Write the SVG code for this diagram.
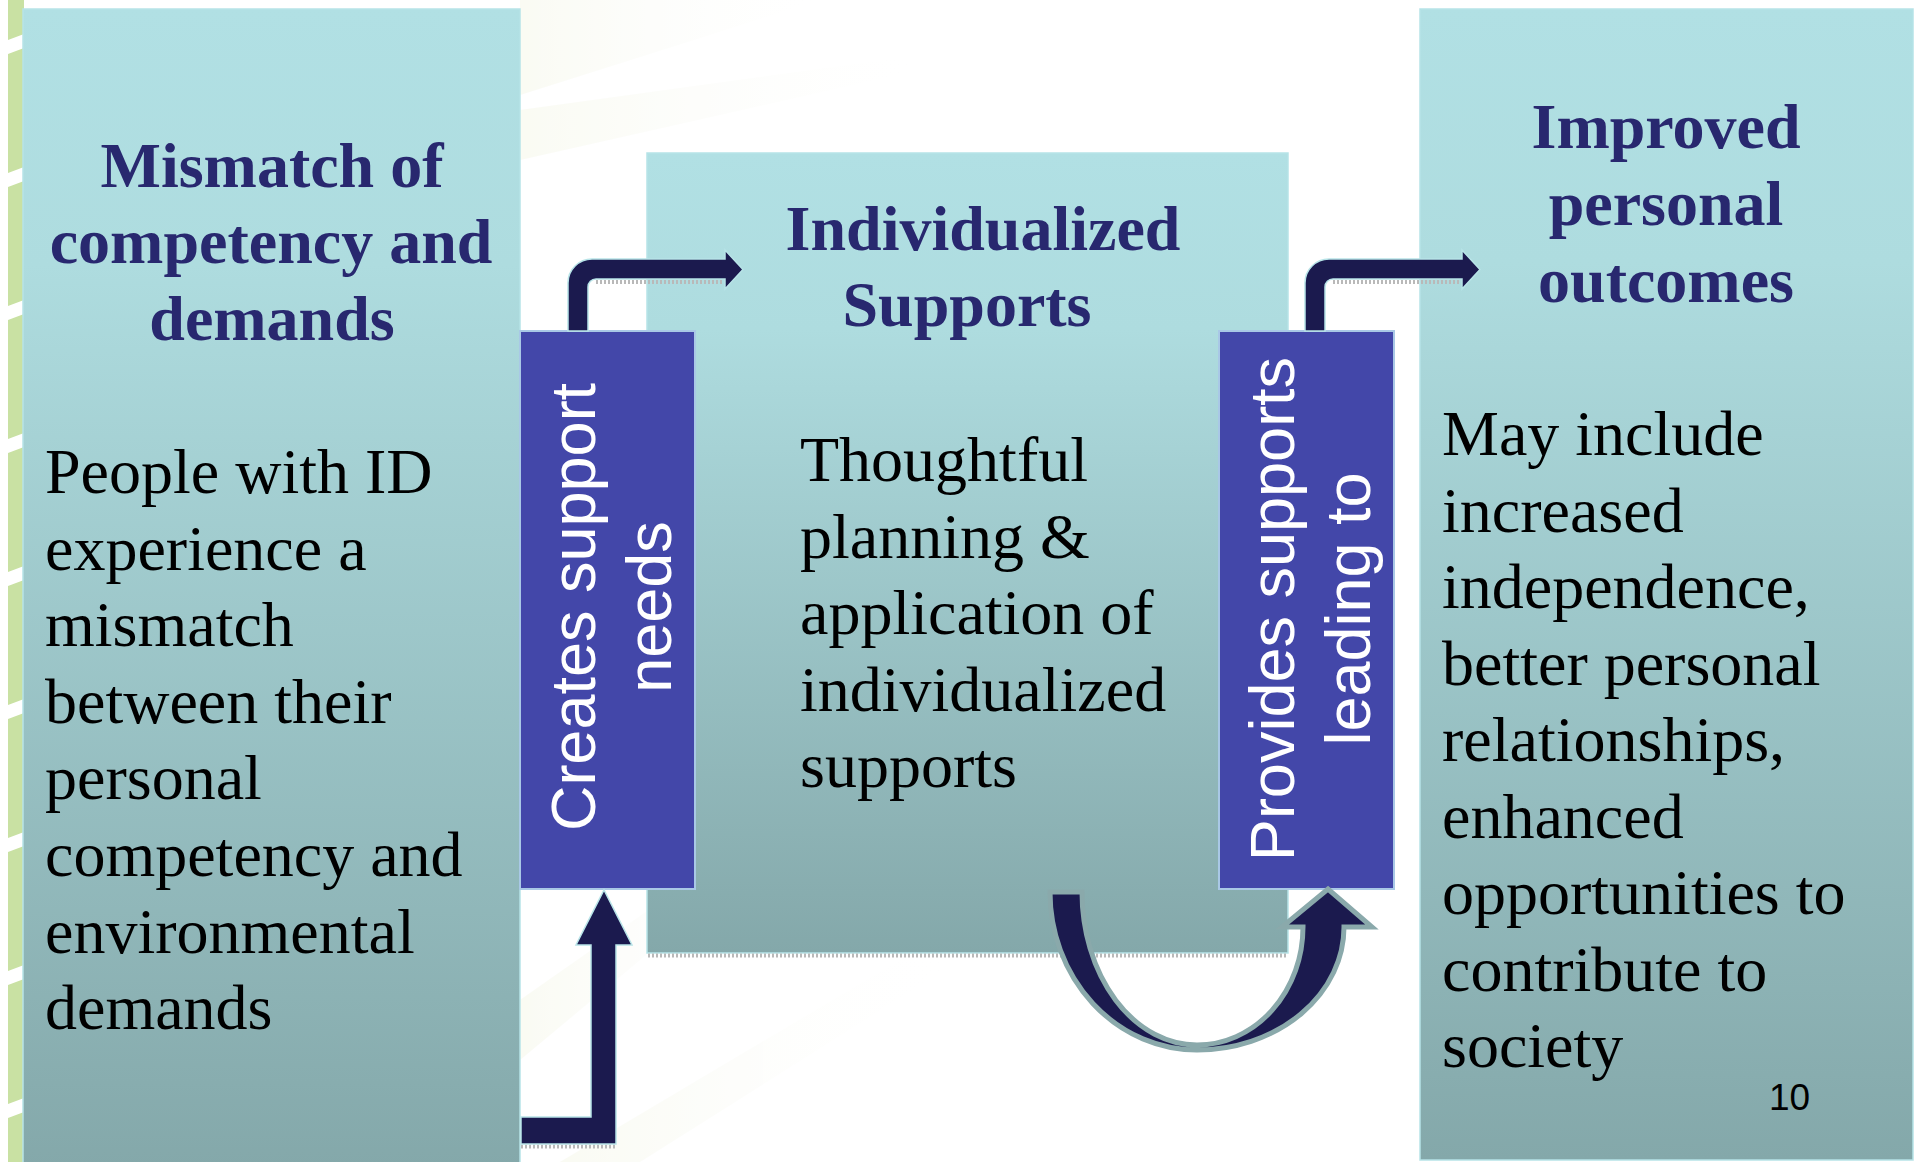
<svg xmlns="http://www.w3.org/2000/svg" width="1919" height="1162" viewBox="0 0 1919 1162">
  <defs>
    <linearGradient id="panelFill" x1="0" y1="0" x2="0" y2="1">
      <stop offset="0" stop-color="#b1e0e4"/>
      <stop offset="0.22" stop-color="#aedcdf"/>
      <stop offset="1" stop-color="#84a8aa"/>
    </linearGradient>
    <linearGradient id="streak" x1="0" y1="0" x2="1" y2="0">
      <stop offset="0" stop-color="#f6f8ea"/>
      <stop offset="1" stop-color="#ffffff" stop-opacity="0"/>
    </linearGradient>
    <style>
      .panel { fill: url(#panelFill); stroke: #b6e3e7; stroke-width: 1.5; }
      .label-box { fill: #4347a9; stroke: #a9c8e6; stroke-width: 2; }
      .title { font-family: "Liberation Serif", "Times New Roman", serif; font-weight: bold; font-size: 64px; fill: #28286f; text-anchor: middle; }
      .body { font-family: "Liberation Serif", "Times New Roman", serif; font-size: 64px; fill: #000000; }
      .label { font-family: "Liberation Sans", Arial, sans-serif; font-size: 63px; fill: #ffffff; text-anchor: middle; }
      .page { font-family: "Liberation Sans", Arial, sans-serif; font-size: 37px; fill: #000000; }
      .bent { fill: #1b1a4e; stroke: #b8e4e8; stroke-width: 1.5; stroke-linejoin: miter; }
      .uturn { fill: #1b1a4e; stroke: #8aa9ab; stroke-width: 5; stroke-linejoin: miter; }
      .shadow { stroke: #b9b9b9; stroke-width: 4; stroke-dasharray: 2 2; fill: none; }
      .gap { fill: #ffffff; }
    </style>
  </defs>

  <!-- backdrop -->
  <rect x="0" y="0" width="1919" height="1162" fill="#ffffff"/>
  <g id="backdrop">
    <rect x="8" y="0" width="16" height="1162" fill="#c9e1a3"/>
    <polygon class="gap" points="8,40 24,34 24,48 8,54"/>
    <polygon class="gap" points="8,173 24,167 24,181 8,187"/>
    <polygon class="gap" points="8,306 24,300 24,314 8,320"/>
    <polygon class="gap" points="8,439 24,433 24,447 8,453"/>
    <polygon class="gap" points="8,572 24,566 24,580 8,586"/>
    <polygon class="gap" points="8,705 24,699 24,713 8,719"/>
    <polygon class="gap" points="8,838 24,832 24,846 8,852"/>
    <polygon class="gap" points="8,971 24,965 24,979 8,985"/>
    <polygon class="gap" points="8,1104 24,1098 24,1112 8,1118"/>
    <g opacity="0.55">
      <polygon points="520,0 820,0 520,95" fill="url(#streak)"/>
      <polygon points="520,110 920,55 920,70 520,160" fill="url(#streak)"/>
      <polygon points="520,1000 720,860 760,860 520,1060" fill="url(#streak)"/>
      <polygon points="560,1162 900,960 960,960 640,1162" fill="url(#streak)"/>
    </g>
  </g>

  <!-- main panels -->
  <g id="node-mismatch">
    <rect class="panel" x="23" y="9" width="497" height="1160"/>
    <text class="title" x="272" y="187">Mismatch of</text>
    <text class="title" x="271" y="263">competency and</text>
    <text class="title" x="272" y="340">demands</text>
    <text class="body" x="45" y="493">People with ID</text>
    <text class="body" x="45" y="569.6">experience a</text>
    <text class="body" x="45" y="646.2">mismatch</text>
    <text class="body" x="45" y="722.8">between their</text>
    <text class="body" x="45" y="799.4">personal</text>
    <text class="body" x="45" y="876">competency and</text>
    <text class="body" x="45" y="952.6">environmental</text>
    <text class="body" x="45" y="1029.2">demands</text>
  </g>

  <g id="node-supports">
    <rect class="panel" x="647" y="153" width="641" height="800"/>
    <line class="shadow" x1="648" y1="955.5" x2="1288" y2="955.5"/>
    <text class="title" x="983" y="250">Individualized</text>
    <text class="title" x="967" y="326">Supports</text>
    <text class="body" x="800" y="481">Thoughtful</text>
    <text class="body" x="800" y="557.5">planning &amp;</text>
    <text class="body" x="800" y="634">application of</text>
    <text class="body" x="800" y="710.5">individualized</text>
    <text class="body" x="800" y="787">supports</text>
  </g>

  <g id="node-outcomes">
    <rect class="panel" x="1420" y="9" width="493" height="1151"/>
    <text class="title" x="1666" y="148">Improved</text>
    <text class="title" x="1666" y="225">personal</text>
    <text class="title" x="1666" y="302">outcomes</text>
    <text class="body" x="1442" y="455">May include</text>
    <text class="body" x="1442" y="531.5">increased</text>
    <text class="body" x="1442" y="608">independence,</text>
    <text class="body" x="1442" y="684.5">better personal</text>
    <text class="body" x="1442" y="761">relationships,</text>
    <text class="body" x="1442" y="837.5">enhanced</text>
    <text class="body" x="1442" y="914">opportunities to</text>
    <text class="body" x="1442" y="990.5">contribute to</text>
    <text class="body" x="1442" y="1067">society</text>
    <text class="page" x="1769" y="1110">10</text>
  </g>

  <!-- vertical step labels -->
  <g id="node-creates">
    <rect class="label-box" x="520" y="331" width="175" height="558"/>
    <g transform="translate(595,607) rotate(-90)">
      <text class="label" x="0" y="0">Creates support</text>
      <text class="label" x="0" y="76">needs</text>
    </g>
  </g>

  <g id="node-provides">
    <rect class="label-box" x="1219" y="331" width="175" height="558"/>
    <g transform="translate(1294,609) rotate(-90)">
      <text class="label" x="0" y="0">Provides supports</text>
      <text class="label" x="0" y="76">leading to</text>
    </g>
  </g>

  <!-- connectors -->
  <g id="connectors">
    <!-- from the mismatch panel up into the first label -->
    <line class="shadow" x1="521" y1="1146.5" x2="616" y2="1146.5"/>
    <path class="bent" d="M521,1117 L591,1117 L591,945 L576,945 L604,890 L632,945 L616,945 L616,1144 L521,1144 Z"/>
    <!-- first label over to the supports panel -->
    <line class="shadow" x1="596" y1="282" x2="724" y2="282"/>
    <path class="bent" d="M568,331 L568,283 A24,24 0 0 1 592,259 L725,259 L725,250 L743,269.5 L725,289 L725,279 L596,279 A8,8 0 0 0 588,287 L588,331 Z"/>
    <!-- supports panel looping round to the second label -->
    <path class="uturn" d="M1050,892 L1082,892 A115,153 0 0 0 1197,1045 A106,118 0 0 0 1303,927 L1282,927 L1328,889 L1372,927 L1344,927 A147,123 0 0 1 1197,1050 A147,158 0 0 1 1050,892 Z"/>
    <!-- second label over to the outcomes panel -->
    <line class="shadow" x1="1333" y1="282" x2="1461" y2="282"/>
    <path class="bent" d="M1305,331 L1305,283 A24,24 0 0 1 1329,259 L1462,259 L1462,250 L1480,269.5 L1462,289 L1462,279 L1333,279 A8,8 0 0 0 1325,287 L1325,331 Z"/>
  </g>
</svg>
